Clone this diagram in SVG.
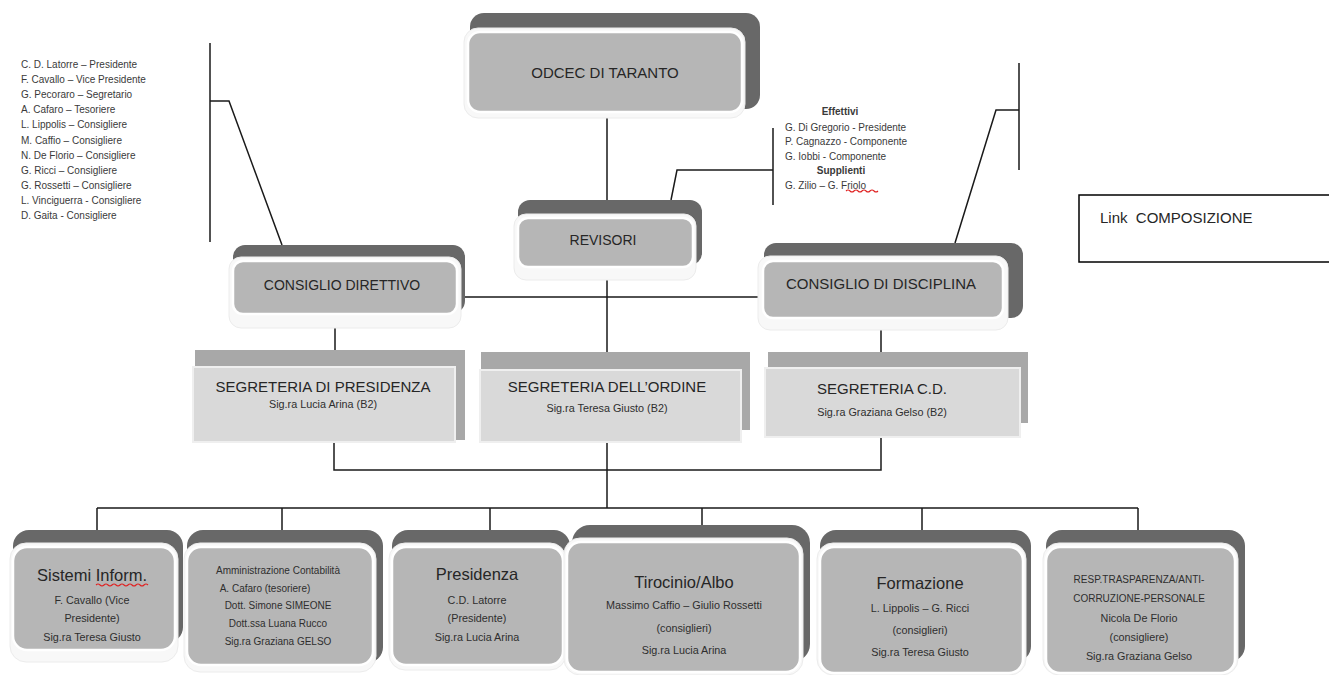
<svg xmlns="http://www.w3.org/2000/svg" width="1329" height="675" viewBox="0 0 1329 675">
<style>
text{font-family:"Liberation Sans",Arial,sans-serif;fill:#262626}
.dk{fill:#686868}
.halo{fill:#f8f8f8;stroke:#ececec;stroke-width:1}
.fr{fill:#b6b6b6;stroke:#ffffff;stroke-width:2.5}
.sdk{fill:#a8a8a8}
.sfr{fill:#d9d9d9;stroke:#efefef;stroke-width:2}
.ln{stroke:#1a1a1a;stroke-width:1.5;fill:none}
.t15{font-size:15px;text-anchor:middle}
.t14{font-size:14px;text-anchor:middle}
.t16{font-size:16.5px;text-anchor:middle}
.s11{font-size:10.8px;text-anchor:middle;fill:#2e2e2e}
.s10{font-size:10px;text-anchor:middle;fill:#2e2e2e}
.lst{font-size:10px;fill:#3a3a3a}
.b{font-weight:bold;text-anchor:middle}
.sq{stroke:#e02020;stroke-width:1.1;fill:none}
</style>
<rect width="1329" height="675" fill="#ffffff"/>

<g id="connectors">
<path class="ln" d="M607 112V200M607 267V370M457 297H763M335 314V367M881 318V368M334 442V470H881V437M607 442V508M97 508H1138M97 508V545M282 508V545M490 508V545M702 508V542M922 508V545M1138 508V545"/>
<path class="ln" d="M210 43V242M210 101H229L282 245"/>
<path class="ln" d="M1019 63V170M1019 110H996L955 243"/>
<path class="ln" d="M773 128V205M773 170H677L671 200"/>
</g>

<g id="left-list">
<text class="lst" x="21" y="68">C. D. Latorre – Presidente</text>
<text class="lst" x="21" y="83.1">F. Cavallo – Vice Presidente</text>
<text class="lst" x="21" y="98.2">G. Pecoraro – Segretario</text>
<text class="lst" x="21" y="113.3">A. Cafaro – Tesoriere</text>
<text class="lst" x="21" y="128.4">L. Lippolis – Consigliere</text>
<text class="lst" x="21" y="143.5">M. Caffio – Consigliere</text>
<text class="lst" x="21" y="158.6">N. De Florio – Consigliere</text>
<text class="lst" x="21" y="173.7">G. Ricci – Consigliere</text>
<text class="lst" x="21" y="188.8">G. Rossetti – Consigliere</text>
<text class="lst" x="21" y="203.9">L. Vinciguerra - Consigliere</text>
<text class="lst" x="21" y="219">D. Gaita - Consigliere</text>
</g>

<g id="revisori-list">
<text class="lst b" x="840" y="115">Effettivi</text>
<text class="lst" x="785" y="131">G. Di Gregorio - Presidente</text>
<text class="lst" x="785" y="145">P. Cagnazzo - Componente</text>
<text class="lst" x="785" y="160">G. Iobbi - Componente</text>
<text class="lst b" x="841" y="174">Supplienti</text>
<text class="lst" x="785" y="189">G. Zilio – G. Friolo</text>
<path class="sq" d="M846 191q2-2 4 0t4 0t4 0t4 0t4 0t4 0t4 0t4 0"/>
</g>

<g id="odcec">
<rect class="dk" x="470" y="13" width="290" height="96" rx="14"/>
<rect class="halo" x="464" y="28" width="281" height="90" rx="14"/>
<rect class="fr" x="468" y="32" width="274" height="80" rx="12"/>
<text class="t15" x="605" y="78">ODCEC DI TARANTO</text>
</g>

<g id="revisori">
<rect class="dk" x="518" y="200" width="184" height="65" rx="12"/>
<rect class="halo" x="514" y="214" width="182" height="66" rx="12"/>
<rect class="fr" x="518" y="218" width="175" height="49" rx="10"/>
<text class="t14" x="603" y="245">REVISORI</text>
</g>

<g id="consiglio-direttivo">
<rect class="dk" x="233" y="245" width="232" height="68" rx="12"/>
<rect class="halo" x="229" y="257" width="232" height="71" rx="12"/>
<rect class="fr" x="233" y="261" width="224" height="53" rx="10"/>
<text class="t14" x="342" y="290">CONSIGLIO DIRETTIVO</text>
</g>

<g id="consiglio-disciplina">
<rect class="dk" x="764" y="243" width="259" height="75" rx="12"/>
<rect class="halo" x="758" y="256" width="250" height="74" rx="12"/>
<rect class="fr" x="763" y="261" width="240" height="57" rx="10"/>
<text class="t15" x="881" y="289">CONSIGLIO DI DISCIPLINA</text>
</g>

<g id="link-composizione">
<rect x="1079" y="195" width="270" height="67" fill="#ffffff" stroke="#000000" stroke-width="1.5"/>
<text x="1100" y="223" font-size="15" fill="#111" xml:space="preserve">Link  COMPOSIZIONE</text>
</g>

<g id="segreteria-presidenza">
<rect class="sdk" x="195" y="350" width="270" height="90"/>
<rect class="sfr" x="193" y="367" width="262" height="75"/>
<text class="t15" x="323" y="392">SEGRETERIA DI PRESIDENZA</text>
<text class="s11" x="323" y="408">Sig.ra Lucia Arina (B2)</text>
</g>

<g id="segreteria-ordine">
<rect class="sdk" x="481" y="352" width="269" height="78"/>
<rect class="sfr" x="480" y="370" width="261" height="72"/>
<text class="t15" x="607" y="392">SEGRETERIA DELL’ORDINE</text>
<text class="s11" x="607" y="412">Sig.ra Teresa Giusto (B2)</text>
</g>

<g id="segreteria-cd">
<rect class="sdk" x="768" y="352" width="260" height="71"/>
<rect class="sfr" x="765" y="368" width="255" height="69"/>
<text class="t15" x="882" y="394">SEGRETERIA C.D.</text>
<text class="s11" x="882" y="416">Sig.ra Graziana Gelso (B2)</text>
</g>

<g id="sistemi-inform">
<rect class="dk" x="13" y="530" width="170" height="113" rx="16"/>
<rect class="halo" x="10" y="543" width="168" height="119" rx="16"/>
<rect class="fr" x="13" y="547" width="162" height="103" rx="14"/>
<text class="t16" x="92" y="581">Sistemi Inform.</text>
<path class="sq" d="M96 585q2-2 4 0t4 0t4 0t4 0t4 0t4 0t4 0t4 0t4 0t4 0t4 0t4 0t4 0"/>
<text class="s11" x="92" y="604">F. Cavallo (Vice</text>
<text class="s11" x="92" y="622">Presidente)</text>
<text class="s11" x="92" y="641">Sig.ra Teresa Giusto</text>
</g>

<g id="amministrazione">
<rect class="dk" x="187" y="530" width="196" height="133" rx="16"/>
<rect class="halo" x="184" y="543" width="192" height="129" rx="16"/>
<rect class="fr" x="187" y="547" width="186" height="118" rx="14"/>
<text class="s10" x="278" y="574">Amministrazione Contabilità</text>
<text class="s10" x="265" y="592">A. Cafaro (tesoriere)</text>
<text class="s10" x="278" y="609">Dott. Simone SIMEONE</text>
<text class="s10" x="278" y="627">Dott.ssa Luana Rucco</text>
<text class="s10" x="278" y="645">Sig.ra Graziana GELSO</text>
</g>

<g id="presidenza">
<rect class="dk" x="392" y="530" width="178" height="125" rx="16"/>
<rect class="halo" x="389" y="543" width="177" height="127" rx="16"/>
<rect class="fr" x="392" y="547" width="171" height="118" rx="14"/>
<text class="t16" x="477" y="580">Presidenza</text>
<text class="s11" x="477" y="604">C.D. Latorre</text>
<text class="s11" x="477" y="622">(Presidente)</text>
<text class="s11" x="477" y="641">Sig.ra Lucia Arina</text>
</g>

<g id="tirocinio-albo">
<rect class="dk" x="572" y="525" width="238" height="137" rx="18"/>
<rect class="halo" x="564" y="538" width="239" height="137" rx="16"/>
<rect class="fr" x="567" y="542" width="233" height="130" rx="14"/>
<text class="t16" x="684" y="588">Tirocinio/Albo</text>
<text class="s11" x="684" y="609">Massimo Caffio – Giulio Rossetti</text>
<text class="s11" x="684" y="632">(consiglieri)</text>
<text class="s11" x="684" y="654">Sig.ra Lucia Arina</text>
</g>

<g id="formazione">
<rect class="dk" x="820" y="530" width="211" height="132" rx="16"/>
<rect class="halo" x="817" y="543" width="209" height="132" rx="16"/>
<rect class="fr" x="820" y="547" width="203" height="126" rx="14"/>
<text class="t16" x="920" y="589">Formazione</text>
<text class="s11" x="920" y="612">L. Lippolis – G. Ricci</text>
<text class="s11" x="920" y="634">(consiglieri)</text>
<text class="s11" x="920" y="656">Sig.ra Teresa Giusto</text>
</g>

<g id="resp-trasparenza">
<rect class="dk" x="1046" y="530" width="199" height="132" rx="16"/>
<rect class="halo" x="1043" y="543" width="195" height="132" rx="16"/>
<rect class="fr" x="1046" y="547" width="189" height="126" rx="14"/>
<text class="s10" x="1139" y="583">RESP.TRASPARENZA/ANTI-</text>
<text class="s10" x="1139" y="602">CORRUZIONE-PERSONALE</text>
<text class="s11" x="1139" y="622">Nicola De Florio</text>
<text class="s11" x="1139" y="641">(consigliere)</text>
<text class="s11" x="1139" y="660">Sig.ra Graziana Gelso</text>
</g>
</svg>
